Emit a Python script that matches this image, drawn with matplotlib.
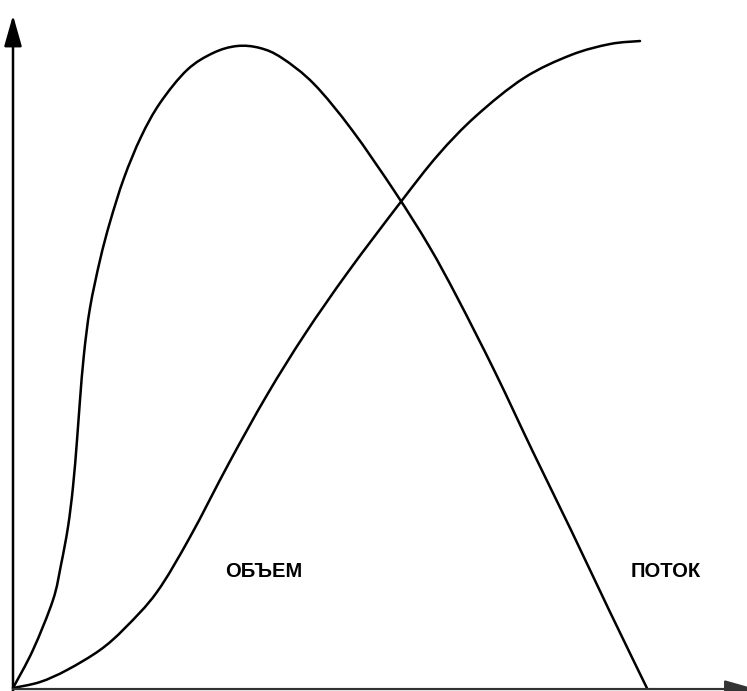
import matplotlib
matplotlib.use("Agg")
from matplotlib import pyplot as plt
from matplotlib.path import Path
from matplotlib.patches import PathPatch
import numpy as np

# curve with a peak (values in % of axis range)
peak_x = [0, 3.16, 6.33, 7.59, 8.70, 9.49, 10.13, 10.60, 11.23, 12.18, 13.77,
          15.35, 17.56, 20.25, 23.26, 27.53, 31.65, 35.44, 39.08, 42.56, 47.63,
          53.64, 60.44, 65.82, 70.25, 76.27, 82.28, 88.29, 94.46, 100.3]
peak_y = [0, 5.92, 13.71, 19.16, 25.08, 31.31, 38.63, 44.86, 52.02, 59.19, 66.67,
          72.59, 79.44, 85.83, 91.12, 96.26, 98.91, 100.0, 99.69, 98.13, 94.08,
          86.92, 77.26, 68.85, 60.90, 49.22, 36.76, 24.61, 11.84, 0]

# S-shaped curve
s_x = [0, 4.27, 8.54, 13.77, 17.72, 22.78, 28.01, 34.18, 40.19, 46.20, 53.01,
       61.23, 67.25, 73.26, 80.85, 88.29, 94.46, 99.21]
s_y = [0, 0.93, 2.80, 5.92, 9.35, 14.95, 23.52, 35.05, 45.64, 55.14, 64.80,
       75.55, 83.02, 89.10, 95.02, 98.60, 100.31, 100.78]

labels = ["ОБЪЕМ", "ПОТОК"]
label_x = [39.6, 103.2]
label_y = [18.1, 18.1]


def smooth_path(ax, xs, ys):
    # draw a smooth line through the points (Catmull-Rom as cubic Bezier)
    pts = ax.transData.transform(np.column_stack([xs, ys]))
    verts = [pts[0]]
    codes = [Path.MOVETO]
    n = len(pts)
    for i in range(n - 1):
        p0 = pts[max(i - 1, 0)]
        p1 = pts[i]
        p2 = pts[i + 1]
        p3 = pts[min(i + 2, n - 1)]
        c1 = p1 + (p2 - p0) / 6
        c2 = p2 - (p3 - p1) / 6
        verts += [c1, c2, p2]
        codes += [Path.CURVE4] * 3
    verts = ax.transData.inverted().transform(np.array(verts))
    ax.add_patch(PathPatch(Path(verts, codes), fill=False, edgecolor="black",
                           lw=1.8, capstyle="round", joinstyle="round"))


fig = plt.figure(figsize=(7.47, 6.91), dpi=100)
ax = fig.add_axes([0, 0, 1, 1])
ax.set_xlim(-2.057, 116.14)
ax.set_ylim(-0.467, 107.17)
ax.axis("off")

smooth_path(ax, peak_x, peak_y)
smooth_path(ax, s_x, s_y)

# axes with arrows
ax.annotate("", xy=(0, 104.8), xytext=(0, -0.5),
            arrowprops=dict(arrowstyle="-|>,head_length=0.95,head_width=0.27",
                            mutation_scale=20, lw=1.8, color="black",
                            shrinkA=0, shrinkB=0))
ax.annotate("", xy=(117.5, -0.16), xytext=(0, -0.16),
            arrowprops=dict(arrowstyle="-|>,head_length=0.95,head_width=0.27",
                            mutation_scale=20, lw=1.6, color="#333333",
                            shrinkA=0, shrinkB=0), annotation_clip=False)

for t, x, y in zip(labels, label_x, label_y):
    ax.text(x, y, t, ha="center", va="center", fontsize=14.5, fontweight="bold",
            family="Liberation Sans")

fig.savefig("out.png", dpi=100)
